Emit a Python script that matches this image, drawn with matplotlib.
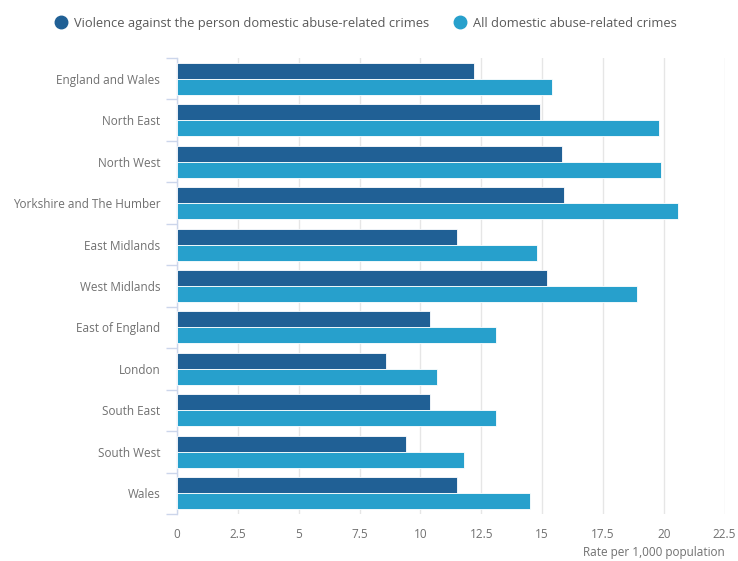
import numpy as np
import matplotlib.pyplot as plt
from matplotlib.lines import Line2D

# dados (taxa por 1.000 habitantes)
regioes = ['England and Wales', 'North East', 'North West', 'Yorkshire and The Humber',
           'East Midlands', 'West Midlands', 'East of England', 'London',
           'South East', 'South West', 'Wales']
violencia = [12.2, 14.9, 15.8, 15.9, 11.5, 15.2, 10.4, 8.6, 10.4, 9.4, 11.5]
todos = [15.4, 19.8, 19.9, 20.6, 14.8, 18.9, 13.1, 10.7, 13.1, 11.8, 14.5]
serie_nomes = ['Violence against the person domestic abuse-related crimes',
               'All domestic abuse-related crimes']
xticks = [0, 2.5, 5, 7.5, 10, 12.5, 15, 17.5, 20, 22.5]
xtick_labels = ['0', '2.5', '5', '7.5', '10', '12.5', '15', '17.5', '20', '22.5']

cor_escura = '#206095'
cor_clara = '#27a0cc'
cinza = '#707070'

plt.rcParams['font.family'] = ['Open Sans', 'DejaVu Sans']

fig = plt.figure(figsize=(7.38, 5.61), dpi=100)
ax = fig.add_axes([0.2398, 0.0838, 0.742, 0.8128])

y = np.arange(len(regioes))
h = 0.385
ax.barh(y - h / 2, violencia, height=h, color=cor_escura, edgecolor='#ffffff', linewidth=0.6, zorder=3)
ax.barh(y + h / 2, todos, height=h, color=cor_clara, edgecolor='#ffffff', linewidth=0.6, zorder=3)

ax.set_ylim(len(regioes) - 0.5, -0.5)
ax.set_xlim(0, 22.5)
ax.set_yticks(y)
ax.set_yticklabels(regioes, fontsize=8.5, color=cinza)
ax.set_yticks(np.arange(len(regioes) + 1) - 0.5, minor=True)
ax.tick_params(axis='y', which='major', length=0, pad=12)
ax.tick_params(axis='y', which='minor', length=8, color='#ccd6eb', width=1)

ax.set_xticks(xticks)
ax.set_xticklabels(xtick_labels, fontsize=8.5, color=cinza)
ax.tick_params(axis='x', length=0, pad=10)
ax.grid(axis='x', color='#e6e6e6', linewidth=1, zorder=0)

for lado in ['top', 'right', 'bottom']:
    ax.spines[lado].set_visible(False)
ax.spines['left'].set_color('#ccd6eb')
ax.spines['left'].set_linewidth(1)

# titulo do eixo x alinhado a direita
fig.text(0.982, 0.0145, 'Rate per 1,000 population', fontsize=8.5, color=cinza,
         ha='right', va='center')

# legenda
handles = [Line2D([0], [0], marker='o', linestyle='', markersize=9, color=cor_escura),
           Line2D([0], [0], marker='o', linestyle='', markersize=9, color=cor_clara)]
leg = fig.legend(handles, serie_nomes, loc='upper left', bbox_to_anchor=(0.058, 0.991),
                 ncol=2, frameon=False, fontsize=9.3, handletextpad=0.5, columnspacing=1.9,
                 handlelength=1.0)
for t in leg.get_texts():
    t.set_color('#595959')

fig.savefig('out.png', dpi=100)
